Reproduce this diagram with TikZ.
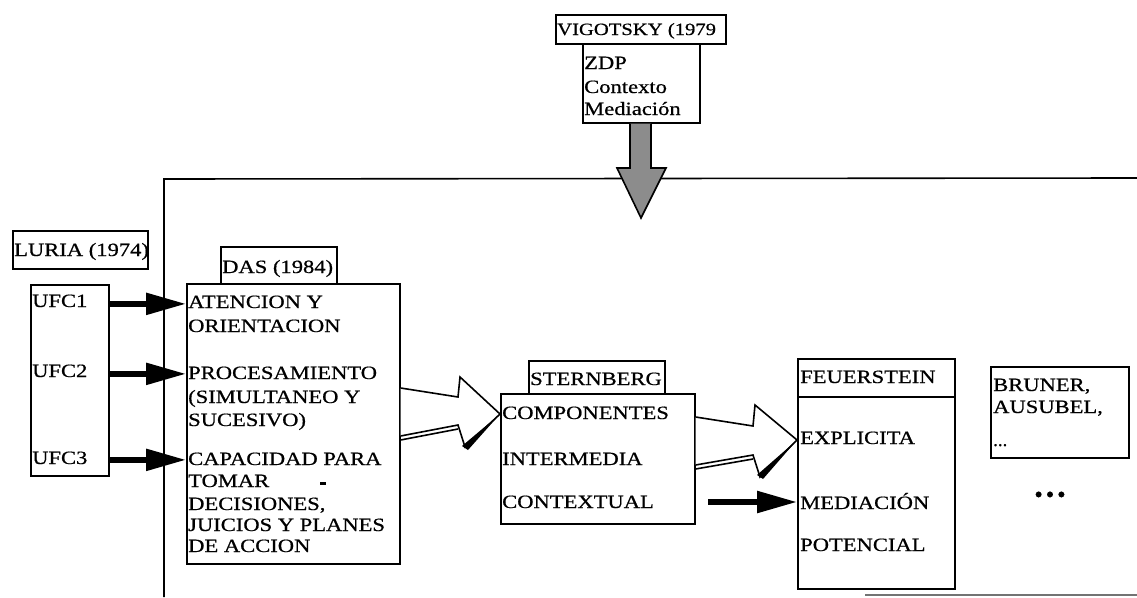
\documentclass[tikz,border=0pt]{standalone}
\usepackage{fontspec}
\usepackage{graphicx}
\setmainfont{Liberation Serif}[FakeBold=0.6]
\usetikzlibrary{arrows.meta,calc}
% horizontally widened text, for the broad book face of the labels
\newcommand\wide[1]{\scalebox{1.2}[1]{#1}}

\begin{document}
\begin{tikzpicture}[x=1pt,y=-1pt,
  every node/.style={font=\fontsize{18.8}{22}\selectfont, inner sep=0pt},
  frame/.style={draw, line width=1.6pt, rectangle, anchor=north west, inner sep=0pt},
  txt/.style={anchor=base west},
  solidarrow/.style={line width=5.5pt, -{Triangle[length=40pt,width=21pt]}},
  hollowarrow/.style={draw, line width=1.6pt, line join=miter, fill=white},
  shadearrow/.style={draw, line width=1.6pt, line join=miter, fill=black!45},
  shadow/.style={line width=1.6pt},
]
\useasboundingbox (0,0) rectangle (1137,597);

% outer frame (open to the right and bottom)
\draw[line width=1.6pt] (164,597) -- (164,179) -- (1137,178);
\draw[black!55, line width=1.2pt] (865,595) -- (1137,595);

% Vigotsky
\node[frame, minimum width=170pt, minimum height=29pt] (vigtitle) at (555,14) {};
\node[txt, font=\fontsize{17.2}{22}\selectfont] (vigt) at (557,35) {\wide{VIGOTSKY (1979}};
\node[frame, minimum width=117pt, minimum height=79pt] (vigbody) at (582,43) {};
\node[txt] (zdp) at (584,69) {\wide{ZDP}};
\node[txt] (contexto) at (584,93) {\wide{Contexto}};
\node[txt] (mediacion) at (584,115) {\wide{Mediación}};
\draw[shadearrow] (vigbody.south -| 630,0) -- (630,168) -- (617,168) -- (641,218)
  -- (666,168) -- (651,168) -- (vigbody.south -| 651,0);

% Luria
\node[frame, minimum width=135pt, minimum height=38pt] (luria) at (12,230) {};
\node[txt] (luriat) at (14,256) {\wide{LURIA (1974)}};
\node[frame, minimum width=78pt, minimum height=191pt] (ufcbox) at (30,284) {};
\node[txt] (ufc1) at (32,307) {\wide{UFC1}};
\node[txt] (ufc2) at (32,377) {\wide{UFC2}};
\node[txt] (ufc3) at (32,464) {\wide{UFC3}};

% Das
\node[frame, minimum width=116pt, minimum height=37pt] (dastitle) at (220,246) {};
\node[txt] (dast) at (222,273) {\wide{DAS (1984)}};
\node[frame, minimum width=213pt, minimum height=280pt] (dasbox) at (186,283) {};
\node[txt] (d1) at (188,308) {\wide{ATENCION Y}};
\node[txt] (d2) at (188,332) {\wide{ORIENTACION}};
\node[txt] (d3) at (188,379) {\wide{PROCESAMIENTO}};
\node[txt] (d4) at (188,403) {\wide{(SIMULTANEO Y}};
\node[txt] (d5) at (188,426) {\wide{SUCESIVO)}};
\node[txt] (d6) at (188,465) {\wide{CAPACIDAD PARA}};
\node[txt] (d7) at (188,487) {\wide{TOMAR}};
\node[txt] (d8) at (188,510) {\wide{DECISIONES,}};
\node[txt] (d9) at (188,531) {\wide{JUICIOS Y PLANES}};
\node[txt] (d10) at (188,552) {\wide{DE ACCION}};
\fill (320,482) rectangle (326,485);

\draw[solidarrow] ($(ufcbox.east |- ufc1.west)+(0,3)$) -- ($(dasbox.west |- ufc1.west)+(0,3)$);
\draw[solidarrow] ($(ufcbox.east |- ufc2.west)+(0,3)$) -- ($(dasbox.west |- ufc2.west)+(0,3)$);
\draw[solidarrow] ($(ufcbox.east |- ufc3.west)+(0,2)$) -- ($(dasbox.west |- ufc3.west)+(0,2)$);

% Sternberg
\node[frame, minimum width=136pt, minimum height=33pt] (sterntitle) at (528,360) {};
\node[txt] (sternt) at (530,385) {\wide{STERNBERG}};
\node[frame, minimum width=194pt, minimum height=130pt] (sternbox) at (500,393) {};
\node[txt] (s1) at (502,419) {\wide{COMPONENTES}};
\node[txt] (s2) at (502,465) {\wide{INTERMEDIA}};
\node[txt] (s3) at (502,508) {\wide{CONTEXTUAL}};

% Das -> Sternberg
\draw[hollowarrow] (dasbox.east |- 0,388) -- (458,397) -- (460,377) -- (sternbox.west |- 0,414)
  -- (465,447) -- (458,425) -- (dasbox.east |- 0,436);
\draw[shadow] (dasbox.east |- 0,440) -- (458,429);
\fill (sternbox.west |- 0,414) -- (462,446) -- (468,450) -- cycle;

% Feuerstein
\node[frame, minimum width=157pt, minimum height=38pt] (feuertitle) at (797,358) {};
\node[txt] (feuert) at (800,383) {\wide{FEUERSTEIN}};
\node[frame, minimum width=157pt, minimum height=192pt] (feuerbox) at (797,396) {};
\node[txt] (f1) at (800,444) {\wide{EXPLICITA}};
\node[txt] (f2) at (800,509) {\wide{MEDIACIÓN}};
\node[txt] (f3) at (800,551) {\wide{POTENCIAL}};

% Sternberg -> Feuerstein
\draw[hollowarrow] (sternbox.east |- 0,417) -- (753,426) -- (755,405) -- (feuerbox.west |- 0,440)
  -- (760,477) -- (753,455) -- (sternbox.east |- 0,465);
\draw[shadow] (sternbox.east |- 0,469) -- (753,459);
\fill (feuerbox.west |- 0,440) -- (757,475) -- (763,479) -- cycle;

\coordinate (medfrom) at (708,502);
\draw[solidarrow] (medfrom) -- (feuerbox.west |- medfrom);

% Bruner, Ausubel
\node[frame, minimum width=138pt, minimum height=91pt] (bruner) at (990,366) {};
\node[txt] (b1) at (993,391) {\wide{BRUNER,}};
\node[txt] (b2) at (993,413) {\wide{AUSUBEL,}};
\node[txt] (b3) at (993,446) {...};
\node[font=\fontsize{24}{24}\selectfont] (more) at (1050,497) {\textbullet\hspace{3pt}\textbullet\hspace{3pt}\textbullet};
\end{tikzpicture}
\end{document}
